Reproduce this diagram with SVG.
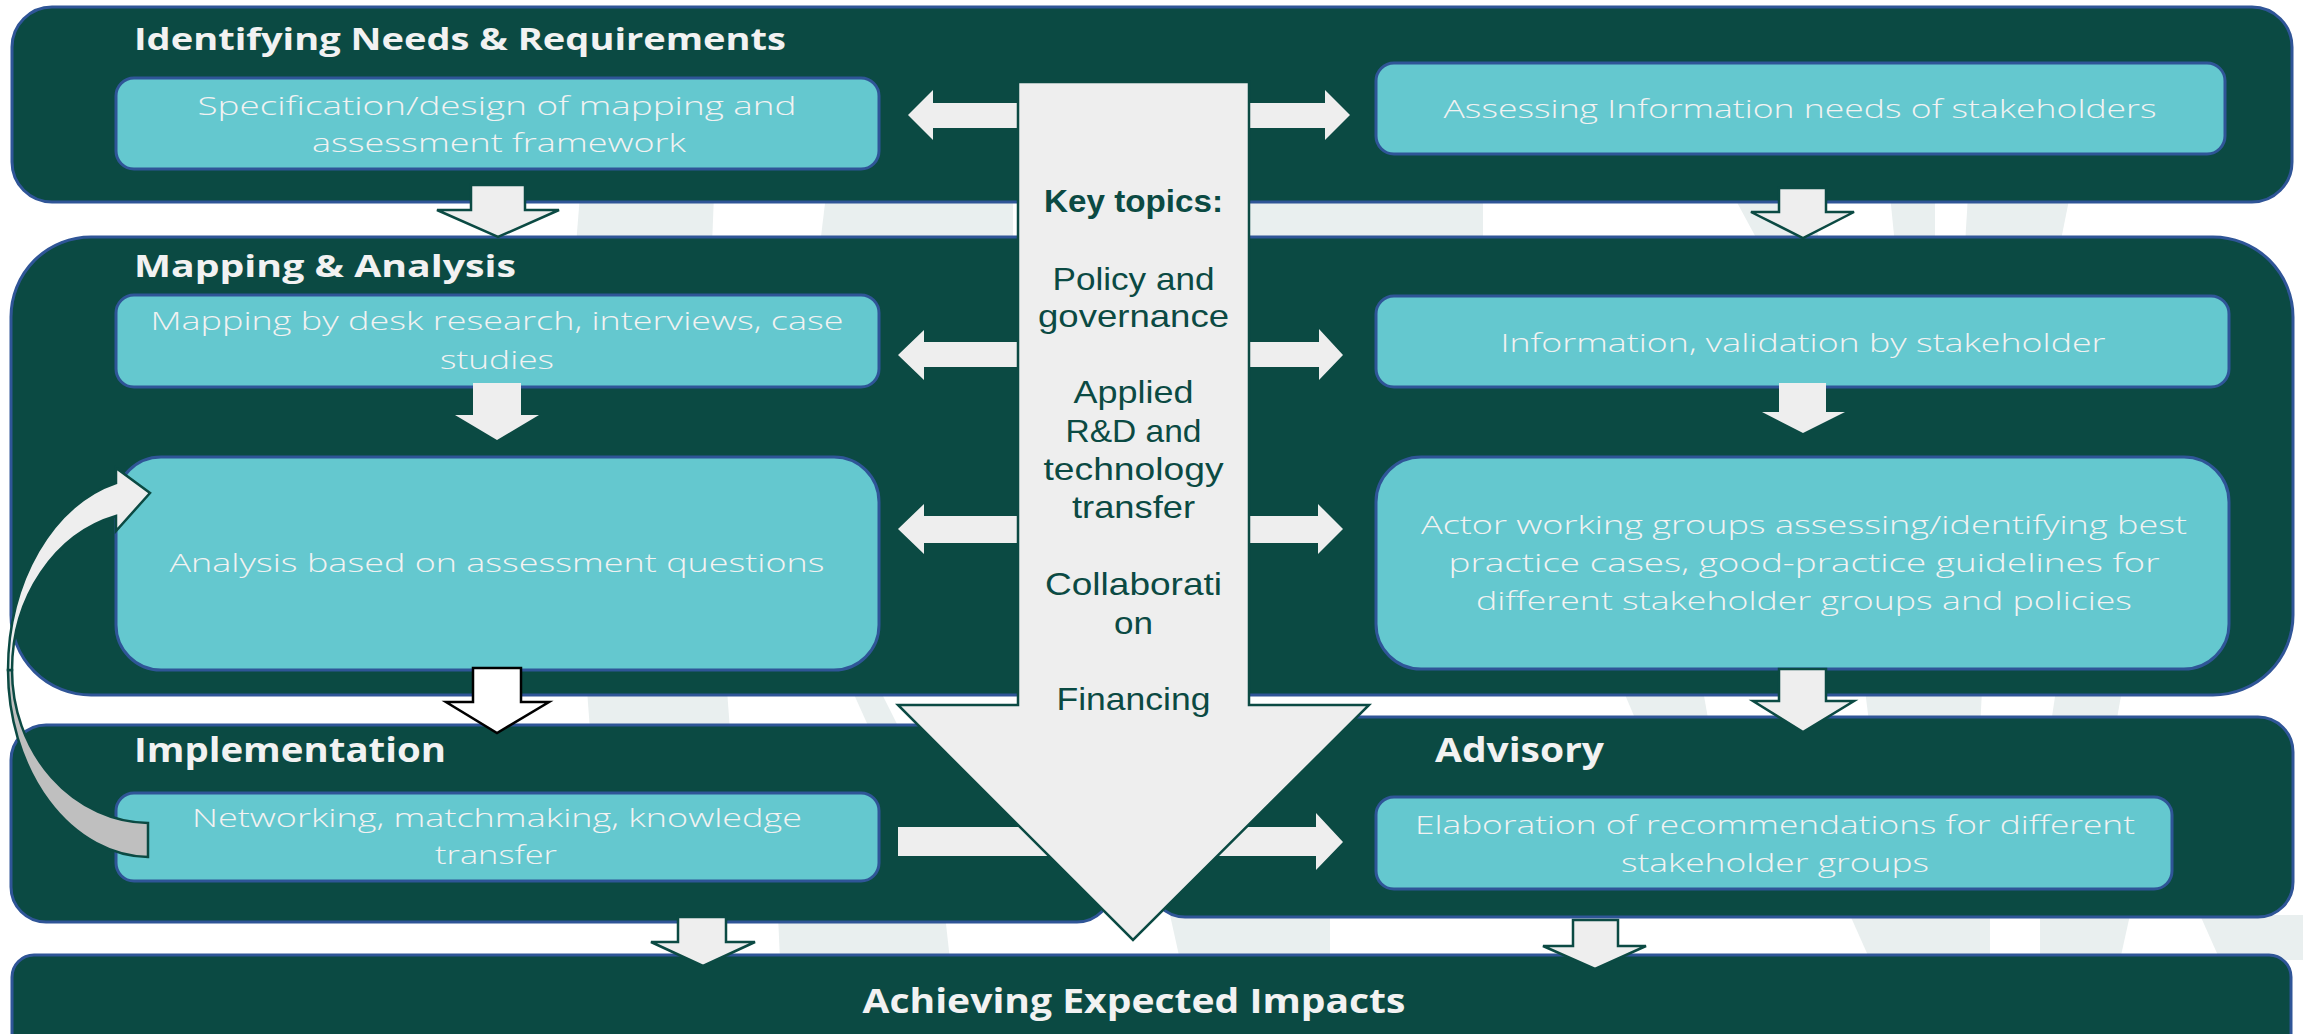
<svg xmlns="http://www.w3.org/2000/svg" width="2303" height="1034" viewBox="0 0 2303 1034">
<style>
.band{fill:#0B4A43;stroke:#2F5597;stroke-width:3}
.box{fill:#64C8CF;stroke:#2F5597;stroke-width:3}
.title{font-family:"Open Sans","Liberation Sans",sans-serif;font-weight:700;fill:#F2F2F2}
.t31{font-size:31px}
.t34{font-size:34px}
.btxt{font-family:"Open Sans","Liberation Sans",sans-serif;font-weight:300;font-size:26px;fill:#F2F2F2;text-anchor:middle}
.ktxt{font-family:"Liberation Sans",Arial,sans-serif;font-size:32px;fill:#0B4A43;text-anchor:middle}
.arr{fill:#EEEEEE;stroke:none}
.arro{fill:#EEEEEE;stroke:#0B4A43;stroke-width:2.5}
.arrw{fill:#FFFFFF;stroke:#000000;stroke-width:2.5}
.wm{fill:#E9EFEF}
</style>
<rect x="0" y="0" width="2303" height="1034" fill="#FFFFFF"/>
<g id="watermark">
<polygon class="wm" points="580,195 714,195 712,245 576,245"/>
<polygon class="wm" points="826,195 1013,195 1013,245 820,245"/>
<polygon class="wm" points="1248,195 1483,195 1483,245 1248,245"/>
<polygon class="wm" points="1733,195 1810,195 1820,245 1760,245"/>
<polygon class="wm" points="1890,195 1935,195 1935,245 1895,245"/>
<polygon class="wm" points="1968,195 2070,195 2060,245 1965,245"/>
<polygon class="wm" points="587,690 727,690 730,730 590,730"/>
<polygon class="wm" points="852,690 880,690 900,730 870,730"/>
<polygon class="wm" points="1623,690 1703,690 1710,730 1640,730"/>
<polygon class="wm" points="1865,690 1982,690 1980,730 1870,730"/>
<polygon class="wm" points="2056,690 2122,690 2115,730 2050,730"/>
<polygon class="wm" points="778,915 945,915 950,960 780,960"/>
<polygon class="wm" points="1170,915 1330,915 1330,960 1180,960"/>
<polygon class="wm" points="1850,915 1990,915 1990,960 1870,960"/>
<polygon class="wm" points="2040,915 2130,915 2120,960 2040,960"/>
<polygon class="wm" points="2200,915 2303,915 2303,960 2220,960"/>
</g>
<g id="band-needs">
<rect class="band" x="12" y="7" width="2280" height="195" rx="40"/>
<text class="title t31" x="134" y="50" textLength="652" lengthAdjust="spacingAndGlyphs">Identifying Needs &amp; Requirements</text>
</g>
<g id="band-mapping">
<rect class="band" x="11" y="237" width="2282" height="458" rx="80"/>
<text class="title t31" x="134" y="277" textLength="382" lengthAdjust="spacingAndGlyphs">Mapping &amp; Analysis</text>
</g>
<g id="band-implementation">
<rect class="band" x="11" y="725" width="1101" height="197" rx="35"/>
<text class="title t34" x="134" y="762" textLength="312" lengthAdjust="spacingAndGlyphs">Implementation</text>
</g>
<g id="band-advisory">
<rect class="band" x="1150" y="717" width="1143" height="200" rx="35"/>
<text class="title t34" x="1435" y="762" textLength="169" lengthAdjust="spacingAndGlyphs">Advisory</text>
</g>
<g id="band-impacts">
<rect class="band" x="12" y="955" width="2279" height="110" rx="22"/>
<text class="title t34" x="1134" y="1013" text-anchor="middle" textLength="543" lengthAdjust="spacingAndGlyphs">Achieving Expected Impacts</text>
</g>
<g id="node-specification">
<rect class="box" x="116" y="78" width="763" height="91" rx="18"/>
<text class="btxt" x="497" y="115" textLength="599" lengthAdjust="spacingAndGlyphs">Specification/design of mapping and</text>
<text class="btxt" x="499" y="152" textLength="374" lengthAdjust="spacingAndGlyphs">assessment framework</text>
</g>
<g id="node-assessing">
<rect class="box" x="1376" y="63" width="849" height="91" rx="18"/>
<text class="btxt" x="1800" y="118" textLength="713" lengthAdjust="spacingAndGlyphs">Assessing Information needs of stakeholders</text>
</g>
<g id="node-mapping-desk">
<rect class="box" x="116" y="295" width="763" height="92" rx="18"/>
<text class="btxt" x="497" y="330" textLength="693" lengthAdjust="spacingAndGlyphs">Mapping by desk research, interviews, case</text>
<text class="btxt" x="497" y="369" textLength="114" lengthAdjust="spacingAndGlyphs">studies</text>
</g>
<g id="node-information">
<rect class="box" x="1376" y="296" width="853" height="91" rx="18"/>
<text class="btxt" x="1803" y="352" textLength="605" lengthAdjust="spacingAndGlyphs">Information, validation by stakeholder</text>
</g>
<g id="node-analysis">
<rect class="box" x="116" y="457" width="763" height="213" rx="45"/>
<text class="btxt" x="497" y="572" textLength="655" lengthAdjust="spacingAndGlyphs">Analysis based on assessment questions</text>
</g>
<g id="node-actor">
<rect class="box" x="1376" y="457" width="853" height="212" rx="45"/>
<text class="btxt" x="1804" y="534" textLength="766" lengthAdjust="spacingAndGlyphs">Actor working groups assessing/identifying best</text>
<text class="btxt" x="1804" y="572" textLength="711" lengthAdjust="spacingAndGlyphs">practice cases, good-practice guidelines for</text>
<text class="btxt" x="1804" y="610" textLength="656" lengthAdjust="spacingAndGlyphs">different stakeholder groups and policies</text>
</g>
<g id="node-networking">
<rect class="box" x="116" y="793" width="763" height="88" rx="18"/>
<text class="btxt" x="497" y="827" textLength="610" lengthAdjust="spacingAndGlyphs">Networking, matchmaking, knowledge</text>
<text class="btxt" x="496" y="864" textLength="122" lengthAdjust="spacingAndGlyphs">transfer</text>
</g>
<g id="node-elaboration">
<rect class="box" x="1376" y="797" width="796" height="92" rx="18"/>
<text class="btxt" x="1775" y="834" textLength="720" lengthAdjust="spacingAndGlyphs">Elaboration of recommendations for different</text>
<text class="btxt" x="1775" y="872" textLength="308" lengthAdjust="spacingAndGlyphs">stakeholder groups</text>
</g>
<g id="connectors">
<polygon class="arr" points="1020,103 933,103 933,90 908,115 933,140 933,128 1020,128"/>
<polygon class="arr" points="1247,103 1325,103 1325,90 1350,115 1325,140 1325,128 1247,128"/>
<polygon class="arr" points="1020,342 924,342 924,330 898,355 924,380 924,367 1020,367"/>
<polygon class="arr" points="1247,342 1319,342 1319,329 1343,355 1319,380 1319,367 1247,367"/>
<polygon class="arr" points="1020,516 924,516 924,504 898,529 924,554 924,543 1020,543"/>
<polygon class="arr" points="1247,516 1318,516 1318,504 1343,529 1318,554 1318,543 1247,543"/>
<polygon class="arr" points="898,827 1316,827 1316,813 1343,842 1316,870 1316,856 898,856"/>
<polygon class="arr" points="473,383 521,383 521,415 539,415 497,440 455,415 473,415"/>
<polygon class="arr" points="1779,383 1826,383 1826,412 1845,412 1803,433 1762,412 1779,412"/>
<polygon class="arro" points="471,185 525,185 525,210 559,210 498,237 437,210 471,210"/>
<polygon class="arro" points="1779,188 1826,188 1826,212 1854,212 1803,238 1751,212 1779,212"/>
<polygon class="arrw" points="473,668 521,668 521,702 549,702 497,733 446,702 473,702"/>
<polygon class="arro" points="1779,669 1826,669 1826,701 1854,701 1803,732 1753,701 1779,701"/>
<polygon class="arro" points="678,917 726,917 726,942 755,942 703,966 651,942 678,942"/>
<polygon class="arro" points="1573,920 1618,920 1618,946 1646,946 1595,969 1543,946 1573,946"/>
<path class="arro" d="M148,823 L148,857 A142,187 0 0 1 8,670 L12,670 A138,153 0 0 0 148,823 Z" style="fill:#BFBFBF"/>
<path class="arro" d="M116,483 L116,468 L150,493 L116,531 L116,516 A138,159 0 0 0 12,670 L8,670 A142,193 0 0 1 116,483 Z"/>
</g>
<g id="node-key-topics">
<path class="arro" d="M1018,82 L1249,82 L1249,705 L1369,705 L1133,940 L898,705 L1018,705 Z"/>
<text class="ktxt" x="1133.5" y="212" font-weight="700" textLength="179" lengthAdjust="spacingAndGlyphs">Key topics:</text>
<text class="ktxt" x="1133.5" y="290" textLength="162" lengthAdjust="spacingAndGlyphs">Policy and</text>
<text class="ktxt" x="1133.5" y="327" textLength="191" lengthAdjust="spacingAndGlyphs">governance</text>
<text class="ktxt" x="1133.5" y="403" textLength="120" lengthAdjust="spacingAndGlyphs">Applied</text>
<text class="ktxt" x="1133.5" y="442" textLength="136" lengthAdjust="spacingAndGlyphs">R&amp;D and</text>
<text class="ktxt" x="1133.5" y="480" textLength="180" lengthAdjust="spacingAndGlyphs">technology</text>
<text class="ktxt" x="1133.5" y="518" textLength="123" lengthAdjust="spacingAndGlyphs">transfer</text>
<text class="ktxt" x="1133.5" y="595" textLength="177" lengthAdjust="spacingAndGlyphs">Collaborati</text>
<text class="ktxt" x="1133.5" y="634" textLength="39" lengthAdjust="spacingAndGlyphs">on</text>
<text class="ktxt" x="1133.5" y="710" textLength="154" lengthAdjust="spacingAndGlyphs">Financing</text>
</g>
</svg>
